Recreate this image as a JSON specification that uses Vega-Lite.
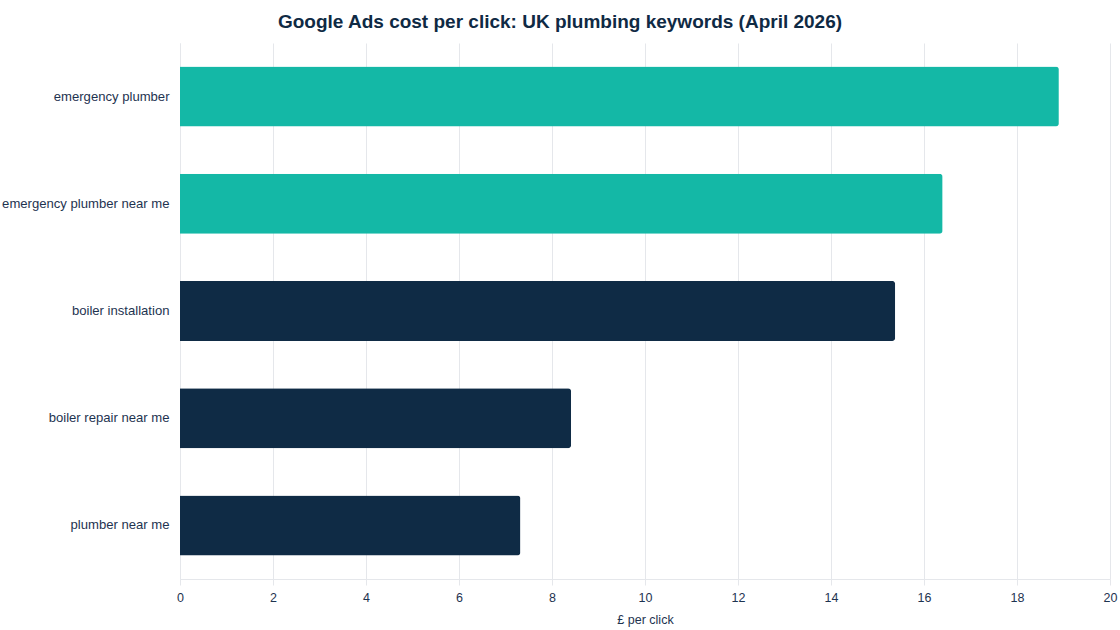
{
  "$schema": "https://vega.github.io/schema/vega-lite/v6.json",
  "width": 930,
  "height": 536,
  "autosize": {"type": "none"},
  "padding": {"left": 180, "top": 43, "right": 10, "bottom": 51},
  "background": "white",
  "title": {
    "text": "Google Ads cost per click: UK plumbing keywords (April 2026)",
    "anchor": "middle",
    "dx": -85,
    "offset": 11,
    "fontSize": 19,
    "fontWeight": "bold",
    "font": "Liberation Sans",
    "color": "#0f2a44"
  },
  "data": {
    "values": [
      {"keyword": "emergency plumber", "cpc": 18.9, "group": "emergency"},
      {"keyword": "emergency plumber near me", "cpc": 16.4, "group": "emergency"},
      {"keyword": "boiler installation", "cpc": 15.38, "group": "other"},
      {"keyword": "boiler repair near me", "cpc": 8.41, "group": "other"},
      {"keyword": "plumber near me", "cpc": 7.32, "group": "other"}
    ]
  },
  "mark": {"type": "bar", "cornerRadiusEnd": 3},
  "encoding": {
    "y": {
      "field": "keyword",
      "type": "nominal",
      "sort": null,
      "title": null,
      "scale": {"paddingInner": 0.44, "paddingOuter": 0.22},
      "axis": {
        "ticks": false,
        "labelPadding": 11,
        "labelFontSize": 13.1,
        "domainColor": "#e5e7eb",
        "labelLimit": 300
      }
    },
    "x": {
      "field": "cpc",
      "type": "quantitative",
      "title": "£ per click",
      "scale": {"domain": [0, 20], "nice": false},
      "axis": {
        "values": [0, 2, 4, 6, 8, 10, 12, 14, 16, 18, 20],
        "grid": true,
        "labelFlush": false,
        "gridColor": "#e5e7eb",
        "domainColor": "#e5e7eb",
        "tickColor": "#e5e7eb",
        "tickSize": 6,
        "labelPadding": 6,
        "labelFontSize": 12.5,
        "titleFontSize": 12.5,
        "titleFontWeight": "normal",
        "titlePadding": 10
      }
    },
    "color": {
      "field": "group",
      "type": "nominal",
      "scale": {"domain": ["emergency", "other"], "range": ["#14b8a6", "#0f2b45"]},
      "legend": null
    }
  },
  "config": {
    "font": "Liberation Sans",
    "view": {"stroke": null},
    "axis": {"labelColor": "#1e3350", "titleColor": "#1e3350", "labelFont": "Liberation Sans", "titleFont": "Liberation Sans"},
    "axisY": {"grid": false}
  }
}
